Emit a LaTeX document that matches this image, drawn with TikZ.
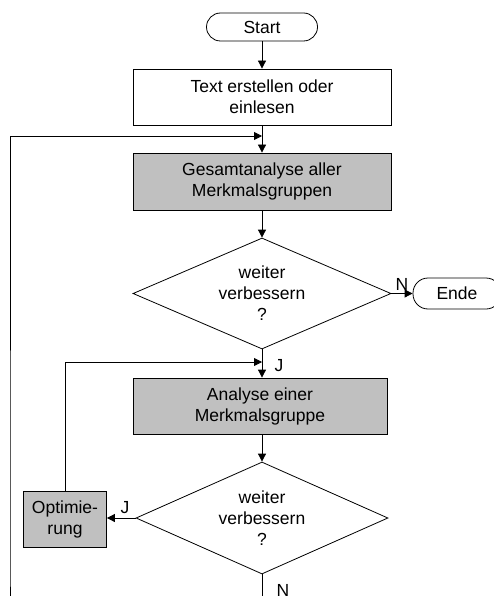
\documentclass[tikz,border=0pt]{standalone}
\usepackage{fontspec}
\setmainfont{Liberation Sans}
\usetikzlibrary{shapes.geometric,arrows.meta}
\definecolor{boxgray}{RGB}{192,192,192}
\begin{document}
\begin{tikzpicture}[x=1pt,y=-1pt,
  every node/.style={font=\fontsize{17.5}{21}\selectfont},
  proc/.style={draw, line width=0.8pt, minimum width=258pt, minimum height=56pt, inner sep=0pt, align=center},
  grayproc/.style={proc, fill=boxgray},
  term/.style={draw, line width=0.8pt, rounded corners=14pt, minimum height=28pt, inner sep=0pt},
  dec/.style={draw, line width=0.8pt, diamond, aspect=2.3, inner sep=0pt, minimum width=258pt, minimum height=111pt, align=center},
  arr/.style={-{Triangle[length=8pt,width=8pt]}, line width=0.8pt},
  lbl/.style={inner sep=0pt}
]
\path[use as bounding box, clip] (0,0) rectangle (494,596);

\node[term, minimum width=111pt] (start) at (262,27) {Start};
\node[proc] (b1) at (262,97) {Text erstellen oder\\einlesen};
\node[grayproc, minimum height=57pt] (b2) at (262,181.5) {Gesamtanalyse aller\\Merkmalsgruppen};
\node[dec] (d1) at (262,293.5) {weiter\\verbessern\\?};
\node[term, minimum width=88pt, minimum height=31pt, rounded corners=15pt] (ende) at (457,293.5) {Ende};
\node[grayproc, minimum width=254pt] (b3) at (260,406) {Analyse einer\\Merkmalsgruppe};
\node[dec, minimum width=252pt, minimum height=112pt] (d2) at (262,518) {weiter\\verbessern\\?};
\node[grayproc, minimum width=83pt] (opt) at (65,519) {Optimie-\\rung};

\coordinate (fb1) at (262,136);
\coordinate (fb2) at (262,362);

\draw[arr] (start) -- (b1);
\draw[line width=0.8pt] (b1.south) -- (fb1);
\draw[arr] (fb1) -- (b2);
\draw[arr] (b2) -- (d1);
\draw[arr] (d1.east) -- (ende.west);
\draw[line width=0.8pt] (d1.south) -- (fb2);
\draw[arr] (fb2) -- (fb2 |- b3.north);
\draw[arr] (b3.south -| d2.north) -- (d2.north);
\draw[arr] (d2.west) -- (opt.east |- d2.west);
\draw[arr] (opt.north) |- (fb2);
\draw[arr] (d2.south) -- ++(0,40) -| (10,560) |- (fb1);

\node[lbl] at (402,284) {N};
\node[lbl] at (279,366) {J};
\node[lbl] at (125,508) {J};
\node[lbl] at (283,590) {N};
\end{tikzpicture}
\end{document}
